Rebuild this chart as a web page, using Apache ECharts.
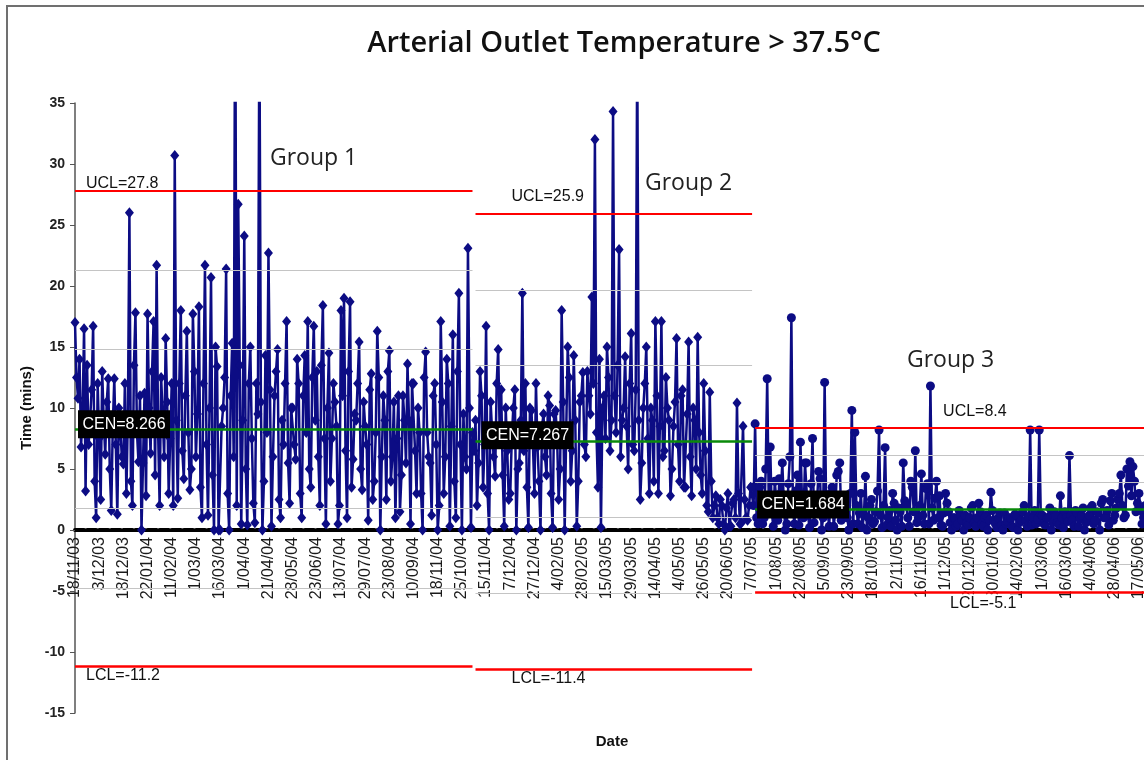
<!DOCTYPE html>
<html>
<head>
<meta charset="utf-8">
<script src="https://cdn.jsdelivr.net/npm/echarts@6/dist/echarts.min.js"></script>
<style>
  html, body { margin: 0; padding: 0; background: #fff; }
  #chart { width: 1144px; height: 760px; }
</style>
</head>
<body>
<div id="chart"></div>
<script>
// Date labels shown on the x axis (one every 16 readings)
const dateLabels = ['18/11/03','3/12/03','18/12/03','22/01/04','11/02/04','1/03/04','16/03/04','1/04/04',
  '21/04/04','28/05/04','23/06/04','13/07/04','29/07/04','23/08/04','10/09/04','18/11/04','25/10/04',
  '15/11/04','7/12/04','27/12/04','4/02/05','28/02/05','15/03/05','29/03/05','14/04/05','4/05/05',
  '26/05/05','20/06/05','7/07/05','1/08/05','22/08/05','5/09/05','23/09/05','18/10/05','2/11/05',
  '16/11/05','1/12/05','20/12/05','30/01/06','14/02/06','1/03/06','16/03/06','4/04/06','28/04/06','17/05/06'];
const LABEL_EVERY = 16;

// Minutes above 37.5 °C per case, three process stages
const group1 = [
  17.0,12.5,10.8,14.0,6.8,9.5,16.5,3.2,13.5,7.0,9.0,11.5,16.7,4.0,1.0,12.0,7.5,2.5,13.0,9.0,
  6.2,10.5,12.4,5.0,1.6,8.5,12.4,7.0,1.3,10.0,8.2,6.0,5.4,12.0,3.0,9.5,26.0,4.0,2.0,13.5,
  17.8,8.0,5.6,11.0,0,5.5,11.2,2.8,17.7,10.0,6.3,13.0,17.1,4.5,21.7,8.0,2.0,12.5,9.5,6.0,
  15.7,10.5,3.0,7.5,12.0,2.0,30.7,9.0,2.6,12.0,18.0,6.5,4.2,11.0,16.3,8.0,3.3,5.0,17.7,13.0,
  6.0,9.5,18.3,3.5,1.0,12.0,21.7,7.0,1.2,10.0,20.7,4.5,0,15.0,13.4,0,0,8.5,10.0,12.5,
  21.4,3.0,0,11.0,15.3,6.0,48,2.0,26.7,13.5,0.5,9.0,24.1,5.0,0.4,12.0,15.0,7.5,2.2,0.6,
  12.0,9.5,42,10.5,0,4.0,14.3,8.0,22.7,11.5,0.3,6.0,11.0,13.0,14.8,2.5,1.0,9.0,7.0,12.0,
  17.1,5.5,2.2,10.0,10.0,7.0,5.8,14.0,12.0,3.0,1.0,11.0,14.3,8.0,17.1,5.0,3.5,12.5,16.7,9.0,
  13.0,6.0,2.0,13.5,18.4,7.5,0.5,10.0,14.5,4.0,7.5,12.0,10.5,8.5,0.5,2.0,18.0,11.0,19.0,6.5,
  1.0,13.0,18.7,3.5,5.8,9.5,9.0,12.0,15.4,5.0,3.3,10.5,8.5,7.0,0.8,11.5,12.8,2.5,4.0,8.0,
  16.3,12.5,0,6.0,11.0,9.0,2.5,13.0,14.7,4.0,6.0,10.5,1.0,7.5,11.0,1.5,4.5,11.0,9.0,5.5,
  13.6,9.0,0.5,12.0,12.0,6.5,3.0,10.0,8.0,3.0,0,12.5,14.6,8.0,6.0,5.5,1.2,11.0,12.0,7.0,
  0,2.0,17.1,10.5,3.0,6.0,14.0,12.0,0.3,8.5,16.0,4.0,1.0,13.0,19.4,7.0,0,9.5,6.0,5.0,
  23.1,10.0,0.2,8.0];

const group2 = [
  6.5,9.0,2.0,5.5,13.0,11.0,3.5,7.0,16.7,3.0,0,10.5,8.0,6.0,4.4,12.0,14.8,8.0,11.5,4.5,
  0.3,10.0,6.5,2.5,3.0,7.5,10.0,11.5,0,5.0,5.5,9.0,19.4,6.5,12.0,3.5,0.2,10.0,9.8,7.0,
  3.0,12.0,6.8,4.0,0,8.5,9.5,6.0,4.5,11.0,10.2,3.0,0.2,9.5,9.8,7.5,2.5,5.0,18.0,10.5,
  0,8.0,15.0,12.5,4.0,6.5,14.3,9.0,0.3,4.0,10.5,11.0,12.9,7.0,6.0,13.0,11.0,9.5,19.1,12.0,
  32.0,8.0,3.5,14.0,0.2,10.0,11.0,7.5,15.0,12.5,6.5,9.0,34.3,11.0,8.0,13.5,23.0,6.0,9.0,10.0,
  14.2,8.5,5.0,12.0,16.1,7.0,6.5,11.5,40,9.0,2.5,5.5,10.0,12.0,15.0,7.5,3.0,10.0,9.0,4.0,
  17.1,11.0,3.0,8.5,17.1,6.0,6.5,12.5,10.0,9.0,2.8,5.0,8.5,10.5,15.7,7.0,4.0,11.0,11.5,3.5,
  3.5,9.5,15.4,6.0,2.8,10.0,9.0,5.0,15.8,8.0,4.5,3.0,12.0,6.5,2.0,1.5,11.3,4.0,1.0,2.0,
  2.8,1.0,0.5,2.5,2.0,0.5,0,1.8,3.0,0.3,0.3,2.2,2.5,1.0,10.4,3.0,0.5,0.6,8.5,2.5,
  1.0,0.8,2.0,3.5];

const group3 = [
  3.5,2.0,8.7,1.0,0.5,3.5,4.0,0.5,1.0,5.0,12.4,2.5,6.8,1.5,0.3,4.0,2.5,0.8,4.2,3.0,
  5.5,2.2,0,0.5,3.8,6.0,17.4,1.8,0.5,3.2,4.5,0.4,7.2,2.6,1.0,5.5,5.5,1.2,0.2,3.8,
  7.5,0.6,2.0,2.4,4.8,4.2,0,1.0,12.1,2.0,1.5,0.3,3.0,3.5,0.3,1.5,4.5,4.8,5.5,0.8,
  1.0,2.8,2.5,1.0,0,3.0,9.8,0.5,8.0,2.0,0.5,1.4,3.0,0.2,1.2,4.4,0,1.0,2.0,2.5,
  0.5,0.7,1.5,3.2,8.2,1.2,0.2,2.0,6.75,0.4,1.0,1.6,0.3,3.0,2.2,0.8,0,1.8,1.5,0.3,
  5.5,2.4,2.0,1.0,0.3,4.0,3.5,1.5,6.5,0.6,1.0,2.0,4.6,1.2,0.5,3.4,3.8,0.5,11.8,1.8,
  0.8,2.6,4.0,1.0,2.8,0.4,0.3,1.4,3.0,2.2,1.5,0.6,0,1.0,1.0,0.3,0.5,1.6,1.2,0.8,
  0,1.2,0.6,0.4,1.0,1.8,2.0,0.6,0.3,1.0,2.2,1.5,0.5,0.3,1.0,1.2,0,0.8,3.1,1.6,
  0.8,0.5,0.2,1.0,1.4,0.4,0,1.4,0.5,0.7,1.0,1.0,0.3,0.2,1.3,1.2,0,0.6,0.8,1.5,
  2.0,0.8,0.3,1.1,8.2,0.4,1.0,1.6,0.5,0.9,8.2,1.3,1.2,0.5,0.4,1.0,1.0,1.8,0,0.6,
  1.5,1.2,0.6,0.4,2.8,1.0,0.2,1.5,1.0,0.7,6.1,1.2,0.8,0.3,1.6,1.4,0.3,0.9,1.2,1.8,
  0,0.6,0.8,1.2,1.8,2.0,0.5,0.8,1.5,1.4,0,2.2,2.5,1.0,1.0,1.6,0.4,2.4,3.0,0.8,
  1.2,1.8,2.5,3.0,4.5,2.0,1.0,1.2,5.0,3.6,5.6,2.8,5.2,4.0,1.5,2.2,3.0,1.6,0.5,1.0,
  2.0,1.8,0.8,1.2,1.5,0.9];

// Control limits per stage
const groupNames = ['Group 1', 'Group 2', 'Group 3'];
const ucl = [27.8, 25.9, 8.4];
const cen = [8.266, 7.267, 1.684];
const lcl = [-11.2, -11.4, -5.1];

const NAVY = '#0c0c84';
const FONT = 'Arial, "Liberation Sans", sans-serif';
const values = [].concat(group1, group2, group3);
const starts = [0, group1.length, group1.length + group2.length];
const last = values.length - 1;
const categories = values.map((_, i) => String(i));

// stage spans used for the limit lines
const spans = [
  [starts[0], starts[1] - 1],
  [starts[1] + 1, starts[2]],
  [starts[2] + 2, last]
];

const limitLines = [];
spans.forEach(([s, e], k) => {
  const sig = (ucl[k] - cen[k]) / 3;
  const add = (v, color, width) => limitLines.push([
    { coord: [s, v], lineStyle: { color, width, type: 'solid' } },
    { coord: [e, v] }
  ]);
  [cen[k] + 2 * sig, cen[k] + sig, cen[k] - sig, cen[k] - 2 * sig].forEach(v => add(v, '#c4c4c4', 1));
  add(ucl[k], '#ff0000', 2);
  add(lcl[k], '#ff0000', 2.5);
  add(cen[k], '#0a8a0a', 2.5);
});

const seriesData = values.map((v, i) => i >= starts[2]
  ? { value: v, symbol: 'circle', symbolSize: 9 }
  : v);

const chart = echarts.init(document.getElementById('chart'), null, { renderer: 'canvas' });

chart.setOption({
  animation: false,
  backgroundColor: '#fff',
  grid: { left: 75, top: 103, bottom: 47, right: -8.6, containLabel: false, outerBoundsMode: 'none' },
  xAxis: {
    type: 'category',
    data: categories,
    boundaryGap: false,
    axisLine: { onZero: false, lineStyle: { color: '#000', width: 4, type: [9.1, 3] } },
    axisTick: { show: false },
    axisLabel: {
      interval: LABEL_EVERY - 1,
      rotate: 90,
      margin: 7,
      color: '#1a1a1a',
      fontFamily: FONT,
      fontSize: 16,
      formatter: (val, idx) => dateLabels[Math.round(idx / LABEL_EVERY)] || ''
    },
    splitLine: { show: false }
  },
  yAxis: {
    type: 'value',
    min: -15, max: 35, interval: 5,
    name: 'Time (mins)',
    nameLocation: 'middle',
    nameGap: 40,
    nameTextStyle: { fontFamily: FONT, fontSize: 15, fontWeight: 'bold', color: '#111' },
    axisLine: { show: true, onZero: false, lineStyle: { color: '#555', width: 1.5 } },
    axisTick: { show: true, length: 5, lineStyle: { color: '#555' } },
    axisLabel: { color: '#222', fontFamily: FONT, fontSize: 14, fontWeight: 'bold', margin: 10 },
    splitLine: { show: false }
  },
  series: [
    {
      name: 'limits',
      type: 'line',
      data: [],
      z: 2,
      silent: true,
      markLine: {
        silent: true,
        symbol: ['none', 'none'],
        label: { show: false },
        data: limitLines
      }
    },
    {
      name: 'Time (mins)',
      type: 'line',
      data: seriesData,
      z: 3,
      symbol: 'diamond',
      symbolSize: [9, 11],
      showAllSymbol: true,
      clip: true,
      lineStyle: { color: NAVY, width: 2.5 },
      itemStyle: { color: NAVY }
    }
  ]
});

// Bring the date axis up to the zero line
const px = (i, v) => chart.convertToPixel({ gridIndex: 0 }, [i, v]);
const zeroY = px(0, 0)[1];
const bottomY = px(0, -15)[1];
chart.setOption({ xAxis: { offset: zeroY - bottomY } });

// Annotations placed relative to the stage limit lines
const txt = (text, x, y, opts = {}) => ({
  type: 'text', x, y, z: 10,
  style: Object.assign({
    text, fill: '#111', font: '16px ' + FONT, align: 'left', verticalAlign: 'middle'
  }, opts)
});

const uclOffset = [[11, -7], [36, -17], [188, -16]];
const lclOffset = [[11, 9], [36, 10], [193, 11]];
const cenOffset = [[3, -19], [6, -20], [2, -19]];
const groupPos = [[270, 158], [645, 183], [907, 360]];

const graphics = [
  {
    type: 'polyline', z: 0, silent: true,
    shape: { points: [[1160, 6], [7, 6], [7, 780]] },
    style: { stroke: '#707070', lineWidth: 2, fill: null }
  },
  txt('Arterial Outlet Temperature > 37.5°C', 624, 44, {
    font: '600 29px "Open Sans", "Noto Sans", sans-serif', align: 'center', fill: '#111'
  }),
  txt('Date', 612, 742, { font: 'bold 15px ' + FONT, align: 'center' })
];

spans.forEach(([s], k) => {
  const pU = px(s, ucl[k]);
  const pL = px(s, lcl[k]);
  const pC = px(s, cen[k]);
  graphics.push(txt('UCL=' + ucl[k], pU[0] + uclOffset[k][0], pU[1] + uclOffset[k][1]));
  // the last stage's lower limit sits among the date labels, so it gets a white backing
  graphics.push(txt('LCL=' + lcl[k], pL[0] + lclOffset[k][0], pL[1] + lclOffset[k][1],
    k === 2 ? { backgroundColor: '#fff', padding: [1, 2] } : {}));
  const bx = pC[0] + cenOffset[k][0], by = pC[1] + cenOffset[k][1];
  graphics.push({
    type: 'rect', z: 11,
    shape: { x: bx, y: by, width: 92, height: 28 },
    style: { fill: '#000' }
  });
  graphics.push(Object.assign(txt('CEN=' + cen[k], bx + 46, by + 14, { fill: '#fff', align: 'center' }), { z: 12 }));
  graphics.push(txt(groupNames[k], groupPos[k][0], groupPos[k][1], {
    font: '23px "Open Sans", "Noto Sans", sans-serif', fill: '#222'
  }));
});

chart.setOption({ graphic: graphics });
</script>
</body>
</html>
